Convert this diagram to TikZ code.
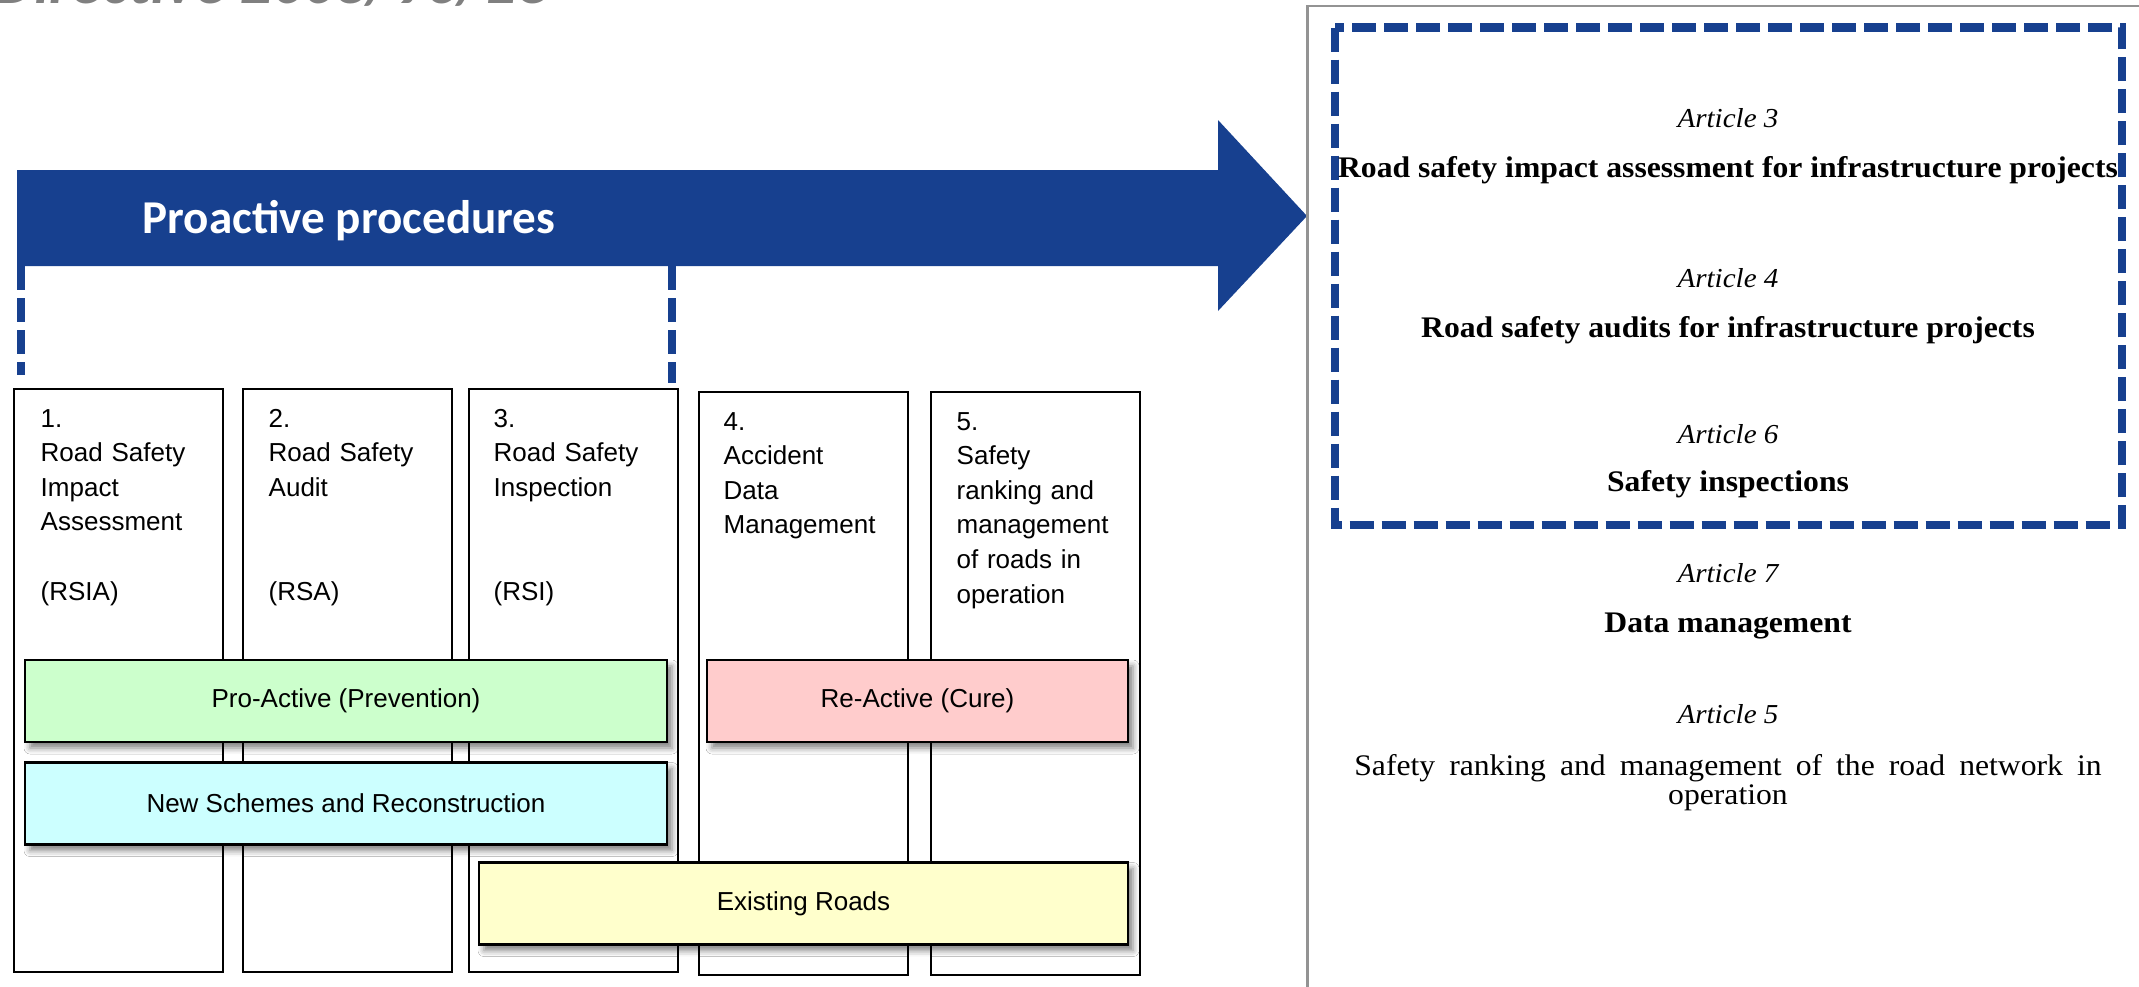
\documentclass[tikz,border=0pt]{standalone}
\usepackage{xcolor}
\usepackage{fontspec}
\usepackage{tikz}
\usetikzlibrary{shadows.blur}

\setsansfont{Liberation Sans}
\newfontfamily\calibri{Carlito}
\newfontfamily\diretiva[FakeStretch=1.06]{Liberation Serif}

\definecolor{azul}{HTML}{17408F}
\definecolor{verde}{HTML}{CCFFCC}
\definecolor{ciano}{HTML}{CCFFFF}
\definecolor{rosa}{HTML}{FFCCCC}
\definecolor{amarelo}{HTML}{FFFFCC}

\tikzset{
  coluna/.style={draw, line width=0.65pt, fill=white, minimum width=2.09cm, minimum height=5.83cm, anchor=north west, inner sep=0pt},
  rotulo/.style={anchor=base west, inner sep=0pt, text width=1.9cm, align=left, font=\sffamily\fontsize{7.4}{9.85}\selectfont},
  faixa/.style={draw, line width=0.7pt, minimum height=0.82cm, inner sep=0pt, font=\sffamily\fontsize{7.4}{9.85}\selectfont,
    blur shadow={shadow xshift=0.05cm, shadow yshift=-0.06cm, shadow blur radius=0.06cm, shadow opacity=50}},
  artigo/.style={anchor=base, inner sep=0pt, font=\diretiva\itshape\fontsize{7.8}{9}\selectfont},
  titulo/.style={anchor=base, inner sep=0pt, font=\diretiva\bfseries\fontsize{8.5}{8.5}\selectfont},
  tracejado/.style={azul, line width=2.3pt, dash pattern=on 0.24cm off 0.08cm}
}

\begin{document}
\begin{tikzpicture}

\useasboundingbox (0,0) rectangle (21.39,9.86);
\clip (0,0) rectangle (21.39,9.86);

% Título (cortado no topo)
\node[anchor=base west, inner sep=0pt, text=gray, font=\calibri\bfseries\itshape\fontsize{17.9}{20}\selectfont] (diretiva) at (-0.06,9.83) {Directive 2008/96/EC};

% Seta azul
\fill[azul] (0.17,8.16) -- (12.18,8.16) -- (12.18,8.66) -- (13.07,7.70) -- (12.18,6.75) -- (12.18,7.20) -- (0.17,7.20) -- cycle;
\node[anchor=base west, inner sep=0pt, text=white, font=\calibri\bfseries\fontsize{13.4}{16}\selectfont] (proativo) at (1.42,7.53) {Proactive procedures};

% Linhas tracejadas sob a seta
\draw[tracejado] (0.21,7.20) -- (0.21,6.11);
\draw[tracejado] (6.72,7.20) -- (6.72,6.03);

% Colunas
\node[coluna] (c1) at (0.13,5.98) {};
\node[coluna] (c2) at (2.42,5.98) {};
\node[coluna] (c3) at (4.68,5.98) {};
\node[coluna] (c4) at (6.98,5.95) {};
\node[coluna] (c5) at (9.30,5.95) {};

% Textos das colunas
\node[rotulo] (rsia) at (0.40,5.59) {1.\\Road Safety\\Impact\\Assessment\\[9.85pt](RSIA)};
\node[rotulo] (rsa) at (2.68,5.59) {2.\\Road Safety\\Audit\\[19.7pt](RSA)};
\node[rotulo] (rsi) at (4.93,5.59) {3.\\Road Safety\\Inspection\\[19.7pt](RSI)};
\node[rotulo] (dados) at (7.23,5.56) {4.\\Accident\\Data\\Management};
\node[rotulo] (ranking) at (9.56,5.56) {5.\\Safety\\ranking and\\management\\of roads in\\operation};

% Faixas coloridas
\node[faixa, fill=verde, minimum width=6.42cm] (prevencao) at (3.46,2.85) {Pro-Active (Prevention)};
\node[faixa, fill=ciano, minimum width=6.42cm] (novos) at (3.46,1.825) {New Schemes and Reconstruction};
\node[faixa, fill=rosa, minimum width=4.21cm] (cura) at (9.175,2.85) {Re-Active (Cure)};
\node[faixa, fill=amarelo, minimum width=6.49cm] (existentes) at (8.035,0.825) {Existing Roads};

% Quadro da diretiva
\draw[gray!85, line width=0.85pt] (21.6,9.80) -- (13.07,9.80) -- (13.07,-0.2);
\draw[tracejado] (13.35,9.585) rectangle (21.22,4.61);

% Artigos
\node[artigo] (art3) at (17.28,8.59) {Article 3};
\node[titulo] (avaliacao) at (17.28,8.09) {Road safety impact assessment for infrastructure projects};
\node[artigo] (art4) at (17.28,6.99) {Article 4};
\node[titulo] (auditoria) at (17.28,6.49) {Road safety audits for infrastructure projects};
\node[artigo] (art6) at (17.28,5.43) {Article 6};
\node[titulo] (inspecao) at (17.28,4.95) {Safety inspections};
\node[artigo] (art7) at (17.28,4.04) {Article 7};
\node[titulo] (gestao) at (17.28,3.54) {Data management};
\node[artigo] (art5) at (17.28,2.63) {Article 5};
\node[anchor=base, inner sep=0pt, text width=8cm, align=center, font=\diretiva\fontsize{8.5}{8.5}\selectfont] (rede) at (17.28,2.11) {\spaceskip=4pt Safety ranking and management of the road network in\\operation};

\end{tikzpicture}
\end{document}
